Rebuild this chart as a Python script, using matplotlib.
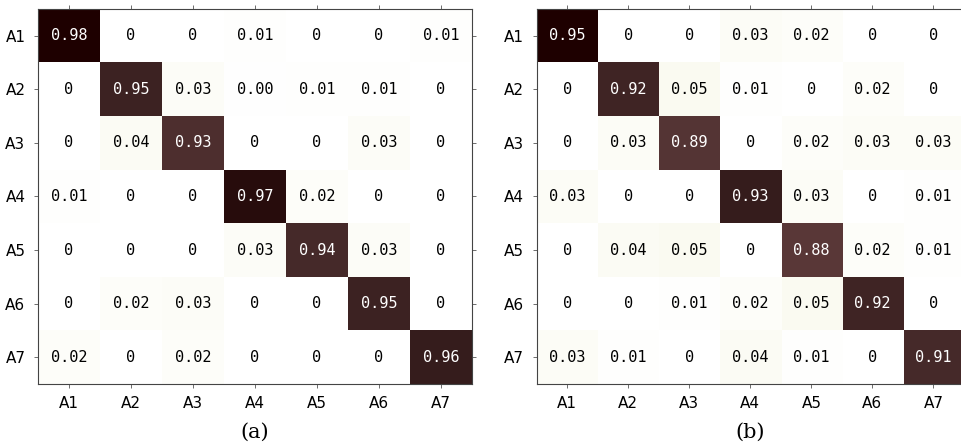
import numpy as np
import matplotlib
matplotlib.use("Agg")
import matplotlib.pyplot as plt

classes = ["A1", "A2", "A3", "A4", "A5", "A6", "A7"]

# confusion matrix (a)
conf_a = np.array([
    [0.98, 0,    0,    0.01,  0,    0,    0.01],
    [0,    0.95, 0.03, 0.004, 0.01, 0.01, 0],
    [0,    0.04, 0.93, 0,     0,    0.03, 0],
    [0.01, 0,    0,    0.97,  0.02, 0,    0],
    [0,    0,    0,    0.03,  0.94, 0.03, 0],
    [0,    0.02, 0.03, 0,     0,    0.95, 0],
    [0.02, 0,    0.02, 0,     0,    0,    0.96],
])

# confusion matrix (b)
conf_b = np.array([
    [0.95, 0,    0,    0.03, 0.02, 0,    0],
    [0,    0.92, 0.05, 0.01, 0,    0.02, 0],
    [0,    0.03, 0.89, 0,    0.02, 0.03, 0.03],
    [0.03, 0,    0,    0.93, 0.03, 0,    0.01],
    [0,    0.04, 0.05, 0,    0.88, 0.02, 0.01],
    [0,    0,    0.01, 0.02, 0.05, 0.92, 0],
    [0.03, 0.01, 0,    0.04, 0.01, 0,    0.91],
])

captions = ["(a)", "(b)"]


def draw_confusion(ax, mat):
    n = len(classes)
    # colour scale runs from 0 to the largest entry of each matrix
    ax.imshow(mat, cmap="pink_r", vmin=0, vmax=mat.max(), aspect="auto",
              interpolation="nearest")
    for i in range(n):
        for j in range(n):
            v = mat[i, j]
            txt = "0" if v == 0 else f"{v:.2f}"
            ax.text(j, i, txt, ha="center", va="center", fontsize=11,
                    family="DejaVu Sans Mono",
                    color="white" if v > 0.5 else "black")
    ax.set_xticks(range(n))
    ax.set_yticks(range(n))
    ax.set_xticklabels(classes, family="Liberation Sans Narrow", fontsize=11)
    ax.set_yticklabels(classes, family="Liberation Sans Narrow", fontsize=11)
    ax.tick_params(top=True, right=True, length=3, width=0.6, color="#555555",
                   pad=6)
    for s in ax.spines.values():
        s.set_linewidth(0.8)
        s.set_color("#444444")


fig = plt.figure(figsize=(9.62, 4.48), dpi=100)
ax_a = fig.add_axes([0.0395, 0.143, 0.451, 0.837])
ax_b = fig.add_axes([0.558, 0.143, 0.444, 0.837])

for ax, mat, cap in zip([ax_a, ax_b], [conf_a, conf_b], captions):
    draw_confusion(ax, mat)
    ax.text(0.5, -0.13, cap, transform=ax.transAxes, ha="center",
            va="center", fontsize=15, family="DejaVu Serif")

fig.savefig("out.png", dpi=100)
